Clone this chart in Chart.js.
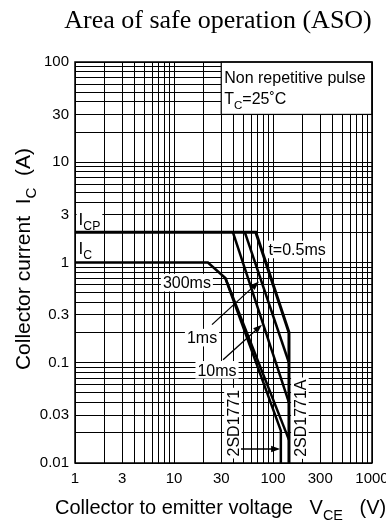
<!DOCTYPE html>
<html><head><meta charset="utf-8">
<script src="https://cdn.jsdelivr.net/npm/chart.js@4/dist/chart.umd.min.js"></script>
<style>html,body{margin:0;padding:0;background:#fff;overflow:hidden}</style>
</head><body>
<canvas id="c" width="386" height="523"></canvas>
<script>
// ---- tick labels ----
const xTickLabels = [1, 3, 10, 30, 100, 300, 1000];
const yTickLabels = [0.01, 0.03, 0.1, 0.3, 1, 3, 10, 30, 100];
// ---- curves: collector-emitter voltage (V) / collector current (A) ----
const t05msV = [1, 67, 145, 145];
const t05msI = [2, 2, 0.2, 0.01];
const t1msV = [52, 145];
const t1msI = [2, 0.1];
const t10msV = [39.4, 145];
const t10msI = [2, 0.04];
const t300msV = [1, 22, 33, 120, 120];
const t300msI = [1, 1, 0.7, 0.021, 0.01];
const t300msAV = [33, 145];
const t300msAI = [0.7, 0.017];

const FONT = "'Liberation Sans', Arial, sans-serif";
const SERIF = "'Liberation Serif', 'Times New Roman', serif";

function pts(V, I) { return V.map((v, i) => ({ x: v, y: I[i] })); }
function logTicks(min, max) {
  const out = [];
  for (let e = Math.round(Math.log10(min)); e < Math.round(Math.log10(max)); e++)
    for (let m = 1; m < 10; m++) out.push(+(m * Math.pow(10, e)).toPrecision(6));
  out.push(max);
  return out;
}
function ds(data, w) {
  return { data, showLine: true, borderColor: '#000', backgroundColor: '#000', borderWidth: w,
    pointRadius: 0, tension: 0, fill: false, borderJoinStyle: 'miter', clip: false };
}

function drawRich(ctx, parts, x, y, size, align) {
  const sub = size * 0.72;
  let total = 0;
  const ws = parts.map(p => { ctx.font = (p.s ? sub : size) + 'px ' + FONT; const w = ctx.measureText(p.t).width; total += w; return w; });
  let cx = align === 'center' ? x - total / 2 : (align === 'right' ? x - total : x);
  ctx.textAlign = 'left'; ctx.textBaseline = 'alphabetic';
  parts.forEach((p, i) => {
    ctx.font = (p.s ? sub : size) + 'px ' + FONT;
    ctx.fillText(p.t, cx, p.s ? y + size * 0.3 : y);
    cx += ws[i];
  });
  return total;
}
function boxLabel(ctx, parts, x, y, size) { // centered, y = middle
  ctx.save();
  let total = 0;
  const sub = size * 0.72;
  parts.forEach(p => { ctx.font = (p.s ? sub : size) + 'px ' + FONT; total += ctx.measureText(p.t).width; });
  ctx.fillStyle = '#fff';
  ctx.fillRect(x - total / 2 - 2, y - size * 0.55, total + 4, size * 1.1);
  ctx.fillStyle = '#000';
  drawRich(ctx, parts, x, y + size * 0.36, size, 'center');
  ctx.restore();
}
function arrow(ctx, x1, y1, x2, y2) {
  ctx.save();
  ctx.strokeStyle = '#000'; ctx.fillStyle = '#000'; ctx.lineWidth = 1.3;
  const a = Math.atan2(y2 - y1, x2 - x1), L = 9, W = 3.2;
  ctx.beginPath(); ctx.moveTo(x1, y1); ctx.lineTo(x2 - L * Math.cos(a) * 0.8, y2 - L * Math.sin(a) * 0.8); ctx.stroke();
  ctx.beginPath();
  ctx.moveTo(x2, y2);
  ctx.lineTo(x2 - L * Math.cos(a) + W * Math.sin(a), y2 - L * Math.sin(a) - W * Math.cos(a));
  ctx.lineTo(x2 - L * Math.cos(a) - W * Math.sin(a), y2 - L * Math.sin(a) + W * Math.cos(a));
  ctx.closePath(); ctx.fill();
  ctx.restore();
}

const deco = {
  id: 'deco',
  beforeDatasetsDraw(chart) {
    const ctx = chart.ctx, X = v => chart.scales.x.getPixelForValue(v), Y = v => chart.scales.y.getPixelForValue(v);
    ctx.save();
    // legend box
    const bx = X(30), by = Y(100), bw = X(1000) - bx, bh = Y(30) - by;
    ctx.fillStyle = '#fff'; ctx.fillRect(bx, by, bw, bh);
    ctx.strokeStyle = '#000'; ctx.lineWidth = 1.2; ctx.strokeRect(bx, by, bw, bh);
    ctx.fillStyle = '#000';
    drawRich(ctx, [{ t: 'Non repetitive pulse' }], bx + 3, by + 21, 16, 'left');
    drawRich(ctx, [{ t: 'T' }, { t: 'C', s: 1 }, { t: '=25\u02DAC' }], bx + 3, by + 42, 16, 'left');
    // labels
    boxLabel(ctx, [{ t: 'I' }, { t: 'CP', s: 1 }], X(1.4), Y(2.75), 17);
    boxLabel(ctx, [{ t: 'I' }, { t: 'C', s: 1 }], X(1.27), Y(1.4), 17);
    boxLabel(ctx, [{ t: '300ms' }], X(13.5), Y(0.63), 16);
    boxLabel(ctx, [{ t: 't=0.5ms' }], X(175), Y(1.35), 16);
    boxLabel(ctx, [{ t: '1ms' }], X(19.2), Y(0.178), 16);
    boxLabel(ctx, [{ t: '10ms' }], X(27.2), Y(0.085), 16);
    // rotated part labels
    [['2SD1771', 39.4, 0.025], ['2SD1771A', 187, 0.028]].forEach(([t, v, i]) => {
      ctx.save();
      ctx.translate(X(v), Y(i)); ctx.rotate(-Math.PI / 2);
      boxLabel(ctx, [{ t }], 0, 0, 16);
      ctx.restore();
    });
    ctx.restore();
  },
  afterDatasetsDraw(chart) {
    const ctx = chart.ctx, X = v => chart.scales.x.getPixelForValue(v), Y = v => chart.scales.y.getPixelForValue(v);
    arrow(ctx, X(24.2), Y(0.24), X(72.2), Y(0.646));
    arrow(ctx, X(31.3), Y(0.107), X(77.4), Y(0.24));
    arrow(ctx, X(47.5), Y(0.0138), X(118), Y(0.0138));
    const a = chart.chartArea;
    ctx.save(); ctx.strokeStyle = '#000'; ctx.lineWidth = 1.5;
    ctx.strokeRect(a.left, a.top, a.right - a.left, a.bottom - a.top);
    ctx.restore();
  },
  afterDraw(chart) {
    const ctx = chart.ctx;
    ctx.save();
    ctx.fillStyle = '#000';
    ctx.font = '26px ' + SERIF; ctx.textAlign = 'center'; ctx.textBaseline = 'alphabetic';
    ctx.fillText('Area of safe operation (ASO)', 218, 28);
    drawRich(ctx, [{ t: 'Collector to emitter voltage   V' }, { t: 'CE', s: 1 }, { t: '   (V)' }], 55, 514, 20, 'left');
    ctx.translate(30, 259); ctx.rotate(-Math.PI / 2);
    drawRich(ctx, [{ t: 'Collector current  I' }, { t: 'C', s: 1 }, { t: '  (A)' }], 0, 0, 21, 'center');
    ctx.restore();
  }
};

const axisCommon = (labels, min, max) => ({
  type: 'logarithmic', min, max,
  afterBuildTicks: s => { s.ticks = logTicks(min, max).map(v => ({ value: v })); },
  ticks: { autoSkip: false, maxRotation: 0, color: '#000', font: { family: FONT, size: 15 },
    callback: v => labels.includes(v) ? String(v) : '' },
  grid: { color: '#000', lineWidth: 1, drawTicks: false },
  border: { display: false }
});

const xOpts = axisCommon(xTickLabels, 1, 1000);
xOpts.ticks.padding = 7;
xOpts.afterFit = s => { s.height = 60; s.paddingLeft = 0; s.paddingRight = 0; };
const yOpts = axisCommon(yTickLabels, 0.01, 100);
yOpts.ticks.padding = 6;
yOpts.afterFit = s => { s.width = 75; s.paddingTop = 0; s.paddingBottom = 0; };

new Chart(document.getElementById('c'), {
  type: 'scatter',
  data: { datasets: [
    ds(pts(t05msV, t05msI), 3),
    ds(pts(t1msV, t1msI), 2.5),
    ds(pts(t10msV, t10msI), 2.5),
    ds(pts(t300msV, t300msI), 2.5),
    ds(pts(t300msAV, t300msAI), 2.5)
  ] },
  options: {
    responsive: false, devicePixelRatio: 1, animation: false,
    layout: { padding: { left: 0, right: 14, top: 62, bottom: 0 } },
    plugins: { legend: { display: false }, tooltip: { enabled: false }, title: { display: false } },
    scales: { x: xOpts, y: yOpts }
  },
  plugins: [deco]
});
</script>
</body></html>
